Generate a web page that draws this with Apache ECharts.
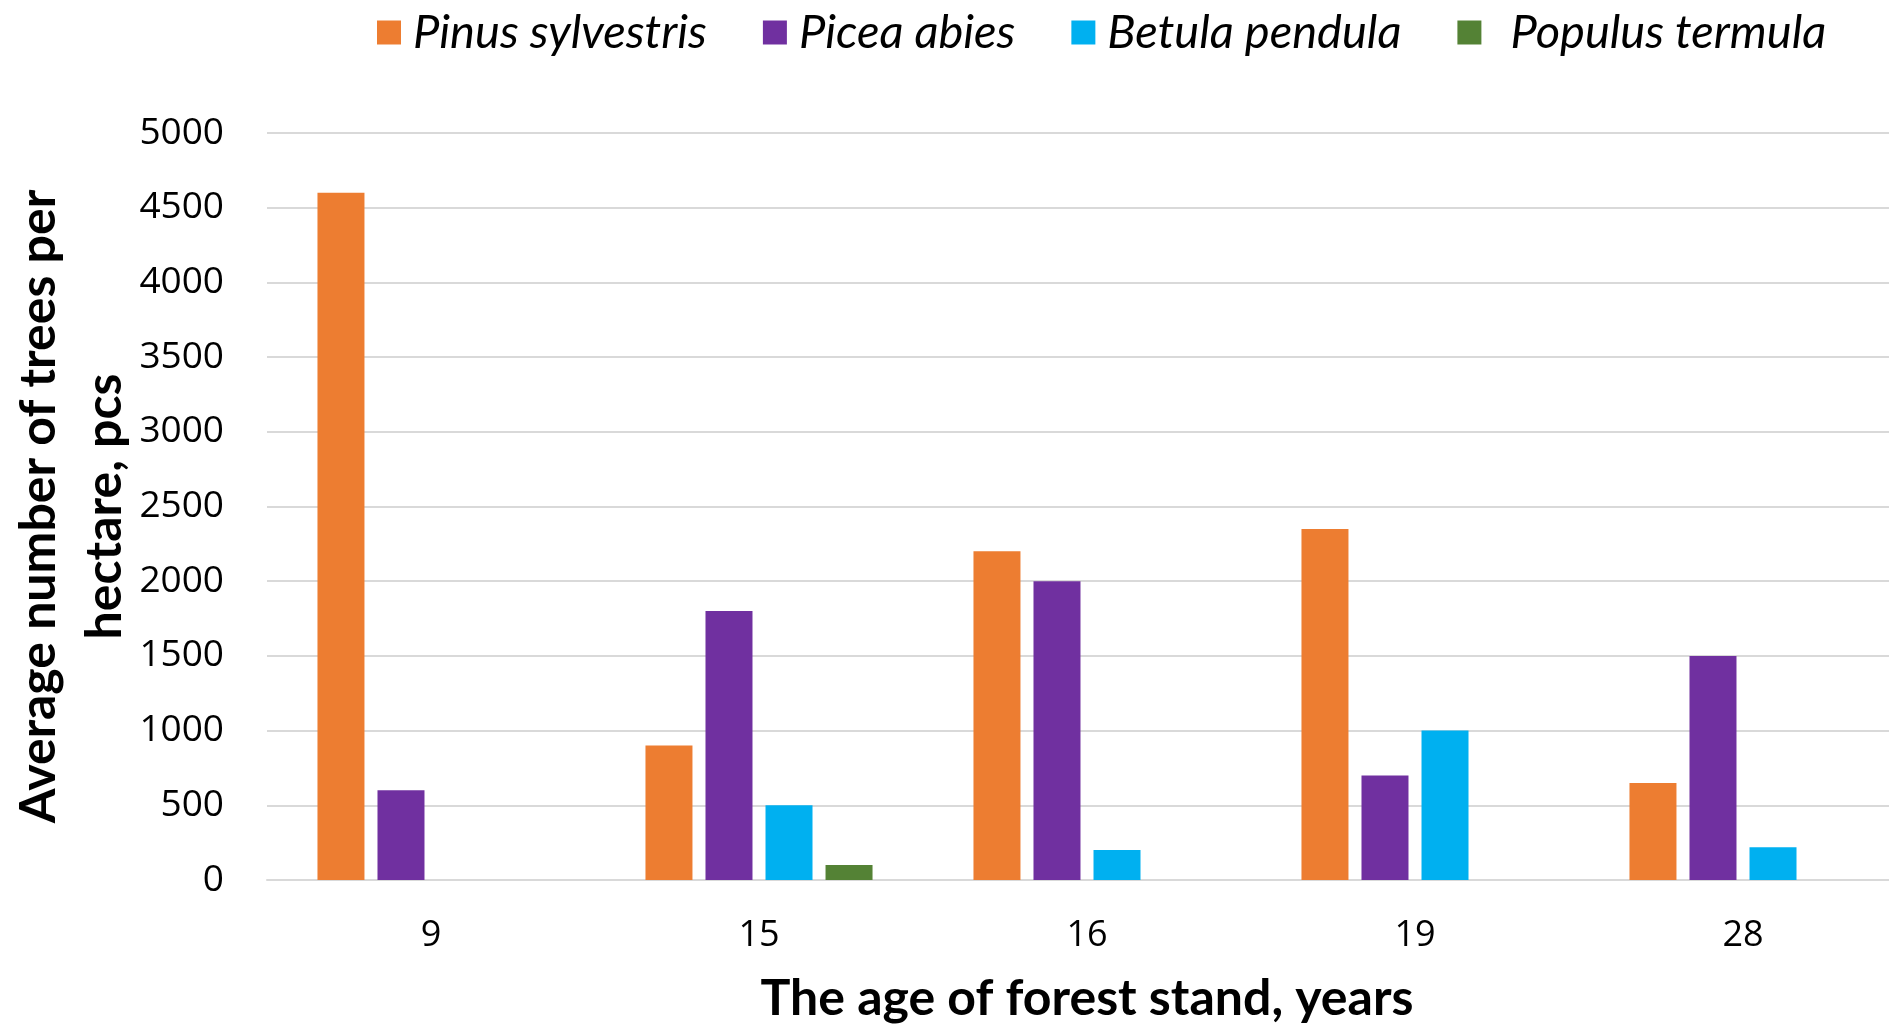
<!DOCTYPE html>
<html>
<head>
<meta charset="utf-8">
<title>Average number of trees per hectare by stand age</title>
<script src="https://cdn.jsdelivr.net/npm/echarts@6/dist/echarts.min.js"></script>
<style>
  html, body { margin: 0; padding: 0; background: #ffffff; }
  #chart { width: 1889px; height: 1027px; }
</style>
</head>
<body>
<div id="chart"></div>
<script>
// Stand age categories (years)
const ages = ['9', '15', '16', '19', '28'];

// Average number of trees per hectare, pcs, by species
const pinusSylvestris = [4600, 900, 2200, 2350, 650];
const piceaAbies      = [600, 1800, 2000, 700, 1500];
const betulaPendula   = [0, 500, 200, 1000, 220];
const populusTermula  = [0, 100, 0, 0, 0];

const speciesNames = ['Pinus sylvestris', 'Picea abies', 'Betula pendula', 'Populus termula'];
const speciesColors = ['#ED7D31', '#7030A0', '#00B0F0', '#548235'];
const speciesValues = [pinusSylvestris, piceaAbies, betulaPendula, populusTermula];

// Y axis range and step
const yMin = 0;
const yMax = 5000;
const yStep = 500;

const chart = echarts.init(document.getElementById('chart'), null, { renderer: 'canvas' });

const series = speciesNames.map((name, i) => ({
  name: name,
  type: 'bar',
  data: speciesValues[i],
  barWidth: 47,
  barGap: '27.7%',
  itemStyle: { color: speciesColors[i] },
  emphasis: { disabled: true }
}));

// Legend entries; the last one sits a little further from its swatch
const legendData = speciesNames.map((name, i) => (
  i === speciesNames.length - 1
    ? { name: name, textStyle: { padding: [0, 0, 0, 24] } }
    : { name: name }
));

chart.setOption({
  animation: false,
  backgroundColor: '#ffffff',
  textStyle: { fontFamily: 'Open Sans' },
  legend: {
    data: legendData,
    left: 372,
    top: 4,
    icon: 'rect',
    itemWidth: 24,
    itemHeight: 24,
    itemGap: 56,
    selectedMode: false,
    textStyle: {
      fontFamily: 'Lato',
      fontStyle: 'italic',
      fontSize: 47,
      color: '#000000',
      padding: [0, 0, 0, 7]
    }
  },
  grid: {
    left: 267,
    top: 133,
    width: 1640,
    height: 747,
    containLabel: false,
    outerBoundsMode: 'none'
  },
  xAxis: {
    type: 'category',
    data: ages,
    name: 'The age of forest stand, years',
    nameLocation: 'middle',
    nameGap: 94,
    nameMoveOverlap: false,
    nameTextStyle: {
      fontFamily: 'Lato',
      fontWeight: 'bold',
      fontSize: 50,
      color: '#000000'
    },
    axisLine: { show: true, lineStyle: { color: '#d9d9d9', width: 2 } },
    axisTick: { show: false },
    axisLabel: {
      margin: 38,
      fontFamily: 'Open Sans',
      fontSize: 36,
      color: '#000000'
    },
    splitLine: { show: false }
  },
  yAxis: {
    type: 'value',
    min: yMin,
    max: yMax,
    interval: yStep,
    name: 'Average number of trees per\nhectare, pcs',
    nameLocation: 'middle',
    nameGap: 129,
    nameMoveOverlap: false,
    nameRotate: 90,
    nameTextStyle: {
      fontFamily: 'Lato',
      fontWeight: 'bold',
      fontSize: 50,
      lineHeight: 66,
      color: '#000000',
      align: 'center'
    },
    axisLine: { show: false },
    axisTick: { show: false },
    axisLabel: {
      margin: 43,
      fontFamily: 'Open Sans',
      fontSize: 37,
      color: '#000000',
      formatter: (v) => String(v)
    },
    splitLine: { show: true, lineStyle: { color: '#d9d9d9', width: 2 } }
  },
  series: series
});
</script>
</body>
</html>
